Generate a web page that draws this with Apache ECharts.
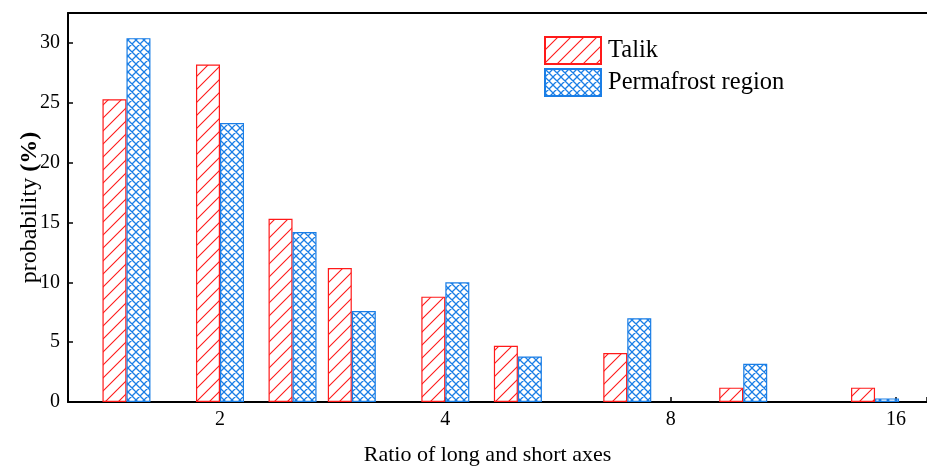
<!DOCTYPE html>
<html>
<head>
<meta charset="utf-8">
<script src="https://cdn.jsdelivr.net/npm/echarts@6/dist/echarts.min.js"></script>
<style>html,body{margin:0;padding:0;background:#fff;}#c{width:927px;height:468px;}</style>
</head>
<body>
<div id="c"></div>
<script>
var ratios = [1.5, 2, 2.5, 3, 4, 5, 7, 10, 15];
var talik = [25.3, 28.2, 15.3, 11.2, 8.8, 4.7, 4.1, 1.2, 1.2];
var permafrost = [30.4, 23.3, 14.2, 7.6, 10.0, 3.8, 7.0, 3.2, 0.3];
var xTickLabels = [2, 4, 8, 16];
var yTickLabels = [0, 5, 10, 15, 20, 25, 30];

var FONT = "'Liberation Serif', 'Times New Roman', serif";
var RED = '#ff1a1a';
var BLUE = '#1a7ee6';

function hatch(color, size, cross, lw) {
  var c = document.createElement('canvas');
  c.width = size; c.height = size;
  var ctx = c.getContext('2d');
  ctx.fillStyle = '#fff';
  ctx.fillRect(0, 0, size, size);
  ctx.strokeStyle = color;
  ctx.lineWidth = lw;
  ctx.beginPath();
  ctx.moveTo(-2, size + 2); ctx.lineTo(size + 2, -2);
  ctx.moveTo(-2, 2); ctx.lineTo(2, -2);
  ctx.moveTo(size - 2, size + 2); ctx.lineTo(size + 2, size - 2);
  if (cross) {
    ctx.moveTo(-2, -2); ctx.lineTo(size + 2, size + 2);
    ctx.moveTo(size - 2, -2); ctx.lineTo(size + 2, 2);
    ctx.moveTo(-2, size - 2); ctx.lineTo(2, size + 2);
  }
  ctx.stroke();
  return { image: c, repeat: 'repeat' };
}

function pairs(xs, ys) { return xs.map(function (x, i) { return [x, ys[i]]; }); }

var chart = echarts.init(document.getElementById('c'), null, { renderer: 'canvas' });
var XMIN = 1.2531, XMAX = 17.6;
chart.setOption({
  animation: false,
  backgroundColor: '#fff',
  textStyle: { fontFamily: FONT, color: '#000' },
  grid: { left: 68, right: 0, top: 13, bottom: 66, containLabel: false, outerBoundsMode: 'none' },
  legend: {
    orient: 'vertical', left: 544, top: 36, padding: 0,
    itemWidth: 56, itemHeight: 27, itemGap: 3,
    textStyle: { fontFamily: FONT, fontSize: 24.5, color: '#000', padding: [0, 0, 0, 2] },
    data: [{ name: 'Talik', icon: 'rect' }, { name: 'Permafrost region', icon: 'rect' }]
  },
  xAxis: [{
    type: 'log', logBase: 2, min: XMIN, max: XMAX,
    name: 'Ratio of long and short axes', nameLocation: 'middle', nameGap: 42,
    nameMoveOverlap: false,
    nameTextStyle: { fontFamily: FONT, fontSize: 22, color: '#000', padding: [0, 20, 0, 0] },
    axisLine: { show: true, lineStyle: { color: '#000', width: 2 } },
    axisTick: { show: true, inside: true, length: 5, lineStyle: { color: '#000', width: 1.5 } },
    axisLabel: {
      fontFamily: FONT, fontSize: 20, color: '#000', margin: 8,
      formatter: function (v) {
        for (var i = 0; i < xTickLabels.length; i++) {
          if (Math.abs(v - xTickLabels[i]) < 1e-6) return String(xTickLabels[i]);
        }
        return '';
      }
    },
    splitLine: { show: false }, minorTick: { show: false }
  }, {
    type: 'log', logBase: 2, min: XMIN, max: XMAX, position: 'top',
    axisLine: { show: true, lineStyle: { color: '#000', width: 2 } },
    axisTick: { show: false }, axisLabel: { show: false }, splitLine: { show: false }
  }],
  yAxis: {
    type: 'value', min: 0, max: 32.5, interval: 5,
    name: '{a|probability }{b|(%)}', nameLocation: 'middle', nameGap: 26,
    nameMoveOverlap: false,
    nameTextStyle: {
      rich: {
        a: { fontFamily: FONT, fontSize: 24, color: '#000' },
        b: { fontFamily: FONT, fontSize: 24, color: '#000', fontWeight: 'bold' }
      }
    },
    axisLine: { show: true, lineStyle: { color: '#000', width: 2 } },
    axisTick: { show: true, inside: true, length: 5, lineStyle: { color: '#000', width: 1.5 } },
    axisLabel: {
      fontFamily: FONT, fontSize: 20, color: '#000', margin: 8,
      formatter: function (v) { return yTickLabels.indexOf(v) >= 0 ? String(v) : ''; }
    },
    splitLine: { show: false }
  },
  series: [{
    name: 'Talik', type: 'bar', xAxisIndex: 0, barWidth: 24, barGap: '0%',
    itemStyle: { color: hatch(RED, 13, false, 1.1), borderColor: RED, borderWidth: 1.2 },
    data: pairs(ratios, talik)
  }, {
    name: 'Permafrost region', type: 'bar', xAxisIndex: 0, barWidth: 24, barGap: '0%',
    itemStyle: { color: hatch(BLUE, 8, true, 1.3), borderColor: BLUE, borderWidth: 1.2 },
    data: pairs(ratios, permafrost)
  }]
});
</script>
</body>
</html>
